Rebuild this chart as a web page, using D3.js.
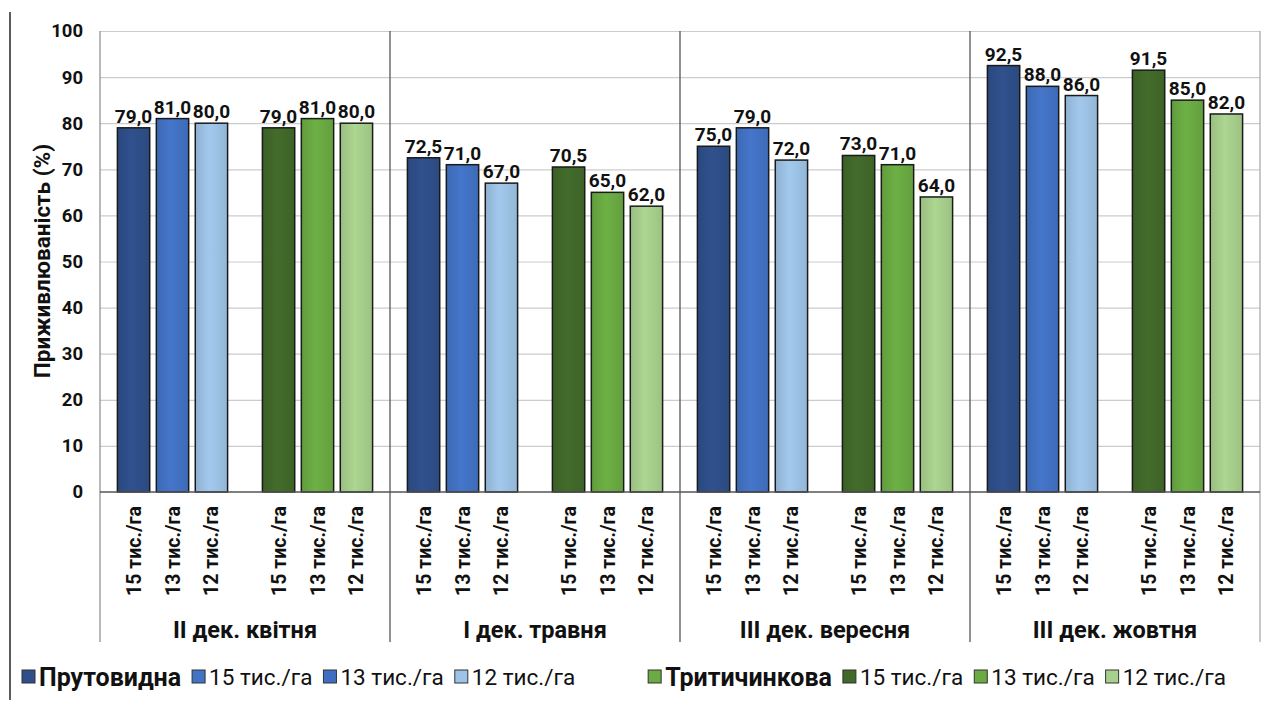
<!DOCTYPE html>
<html>
<head>
<meta charset="utf-8">
<script src="https://cdn.jsdelivr.net/npm/d3@7/dist/d3.min.js"></script>
<style>
  html, body { margin: 0; padding: 0; background: #fff; }
  svg { display: block; }
  text { font-family: Roboto, "Liberation Sans", Arial, sans-serif; fill: #111; }
</style>
</head>
<body>
<svg id="chart" width="1269" height="702"></svg>
<script>
// ---------------- data ----------------
const dates = ["II дек. квітня", "I дек. травня", "III дек. вересня", "III дек. жовтня"];
const varieties = ["Прутовидна", "Тритичинкова"];
const densities = ["15 тис./га", "13 тис./га", "12 тис./га"];
// values per date, per density (15, 13, 12)
const prutovydnaValues = [[79.0, 81.0, 80.0], [72.5, 71.0, 67.0], [75.0, 79.0, 72.0], [92.5, 88.0, 86.0]];
const trytychynkovaValues = [[79.0, 81.0, 80.0], [70.5, 65.0, 62.0], [73.0, 71.0, 64.0], [91.5, 85.0, 82.0]];
const yTicks = [0, 10, 20, 30, 40, 50, 60, 70, 80, 90, 100];
const yTitle = "Приживлюваність (%)";

// ---------------- styles ----------------
const colors = {
  "Прутовидна": ["#2F4F8A", "#4373C5", "#9DC3E6"],
  "Тритичинкова": ["#41692A", "#6AAB43", "#A8D08D"]
};
const legendItems = [
  { label: "Прутовидна", bold: true, color: "#2F4F8A" },
  { label: "15 тис./га", bold: false, color: "#4373C5" },
  { label: "13 тис./га", bold: false, color: "#3E6FC2" },
  { label: "12 тис./га", bold: false, color: "#9DC3E6" },
  { label: "Тритичинкова", bold: true, color: "#6AAB43", gapBefore: true },
  { label: "15 тис./га", bold: false, color: "#41692A" },
  { label: "13 тис./га", bold: false, color: "#6AAB43" },
  { label: "12 тис./га", bold: false, color: "#A8D08D" }
];

const W = 1269, H = 702;
const plot = { left: 100, right: 1260, top: 31, bottom: 492, catBottom: 642 };

const svg = d3.select("#chart");
svg.append("rect").attr("width", W).attr("height", H).attr("fill", "#fff");

// gradients
const defs = svg.append("defs");
Object.entries(colors).forEach(([v, cs], vi) => {
  cs.forEach((c, ci) => {
    const g = defs.append("linearGradient").attr("id", `g${vi}${ci}`)
      .attr("x1", "0").attr("x2", "1").attr("y1", "0").attr("y2", "0");
    const base = d3.color(c);
    g.append("stop").attr("offset", "0").attr("stop-color", base.darker(0.25));
    g.append("stop").attr("offset", "0.45").attr("stop-color", base.brighter(0.08));
    g.append("stop").attr("offset", "1").attr("stop-color", base.darker(0.2));
  });
});

// scales
const subKeys = [];
dates.forEach(d => varieties.forEach(v => subKeys.push(d + "|" + v)));
const xSub = d3.scaleBand().domain(subKeys).range([plot.left, plot.right])
  .paddingInner(0.24).paddingOuter(0.12);
const xIn = d3.scaleBand().domain(densities).range([0, xSub.bandwidth()]).paddingInner(0.17);
const xGroup = d3.scaleBand().domain(dates).range([plot.left, plot.right]);
const y = d3.scaleLinear().domain([0, 100]).range([plot.bottom, plot.top]);

// outer left frame line
svg.append("line").attr("x1", 10).attr("x2", 10).attr("y1", 12).attr("y2", 700)
  .attr("stroke", "#333").attr("stroke-width", 1.6);

// gridlines
const grid = svg.append("g").attr("transform", `translate(${plot.left},0)`)
  .call(d3.axisLeft(y).tickValues(yTicks.filter(t => t > 0)).tickSize(-(plot.right - plot.left)).tickFormat(""));
grid.select(".domain").remove();
grid.selectAll(".tick line").attr("stroke", "#cccccc").attr("stroke-width", 1.2);

// left & right plot borders
svg.append("line").attr("x1", plot.left).attr("x2", plot.left).attr("y1", plot.top).attr("y2", plot.catBottom)
  .attr("stroke", "#9a9a9a").attr("stroke-width", 1.4);
svg.append("line").attr("x1", plot.right).attr("x2", plot.right).attr("y1", plot.top).attr("y2", plot.catBottom)
  .attr("stroke", "#b0b0b0").attr("stroke-width", 1.4);

// group separators
svg.append("g").selectAll("line").data(dates.slice(1)).join("line")
  .attr("x1", d => xGroup(d)).attr("x2", d => xGroup(d))
  .attr("y1", plot.top).attr("y2", plot.catBottom)
  .attr("stroke", "#555").attr("stroke-width", 1.3);

// y axis labels
const yAxis = svg.append("g").attr("transform", `translate(${plot.left},0)`)
  .call(d3.axisLeft(y).tickValues(yTicks).tickSize(0).tickPadding(17));
yAxis.select(".domain").remove();
yAxis.selectAll("text").style("font-size", "18.5px").style("font-weight", "bold")
  .style("font-family", "Roboto, 'Liberation Sans', sans-serif").attr("fill", "#111");

svg.append("text").attr("transform", `translate(50,261) rotate(-90)`)
  .attr("text-anchor", "middle").style("font-size", "22.5px").style("font-weight", "bold")
  .text(yTitle);

// bars
const fmt = v => d3.format(".1f")(v).replace(".", ",");
const barData = [];
dates.forEach((d, di) => {
  varieties.forEach((v, vi) => {
    const vals = vi === 0 ? prutovydnaValues[di] : trytychynkovaValues[di];
    densities.forEach((den, ci) => {
      barData.push({ date: d, variety: v, vi, density: den, ci, value: vals[ci] });
    });
  });
});

const bx = d => xSub(d.date + "|" + d.variety) + xIn(d.density);

svg.append("g").selectAll("rect").data(barData).join("rect")
  .attr("x", bx)
  .attr("y", d => y(d.value))
  .attr("width", xIn.bandwidth())
  .attr("height", d => y(0) - y(d.value))
  .attr("fill", d => `url(#g${d.vi}${d.ci})`)
  .attr("stroke", "#1a1a1a").attr("stroke-width", 1.5);

// value labels
svg.append("g").selectAll("text").data(barData).join("text")
  .attr("x", d => bx(d) + xIn.bandwidth() / 2)
  .attr("y", d => y(d.value) - 5)
  .attr("text-anchor", "middle")
  .style("font-size", "19px").style("font-weight", "bold")
  .text(d => fmt(d.value));

// x axis line
svg.append("line").attr("x1", plot.left).attr("x2", plot.right).attr("y1", y(0)).attr("y2", y(0))
  .attr("stroke", "#555").attr("stroke-width", 1.6);

// category tick labels (rotated)
svg.append("g").selectAll("text").data(barData).join("text")
  .attr("transform", d => `translate(${bx(d) + xIn.bandwidth() / 2},${y(0) + 14}) rotate(-90)`)
  .attr("text-anchor", "end").attr("dy", "0.36em")
  .style("font-size", "19.5px").style("font-weight", "bold")
  .text(d => d.density);

// group labels
svg.append("g").selectAll("text").data(dates).join("text")
  .attr("x", d => xGroup(d) + xGroup.bandwidth() / 2)
  .attr("y", 638)
  .attr("text-anchor", "middle")
  .style("font-size", "23.5px").style("font-weight", "bold")
  .text(d => d);

// legend
const lg = svg.append("g");
let lx = 22;
const ly = 677;
legendItems.forEach(item => {
  if (item.gapBefore) lx += 62;
  lg.append("rect").attr("x", lx).attr("y", ly - 7).attr("width", 13).attr("height", 13)
    .attr("fill", item.color).attr("stroke", "#333").attr("stroke-width", 1);
  const t = lg.append("text").attr("x", lx + 17).attr("y", ly).attr("dy", "0.36em")
    .style("font-size", item.bold ? "25px" : "22.5px").style("font-weight", item.bold ? "bold" : "normal")
    .text(item.label);
  lx += 17 + t.node().getComputedTextLength() + 11;
});
</script>
</body>
</html>
